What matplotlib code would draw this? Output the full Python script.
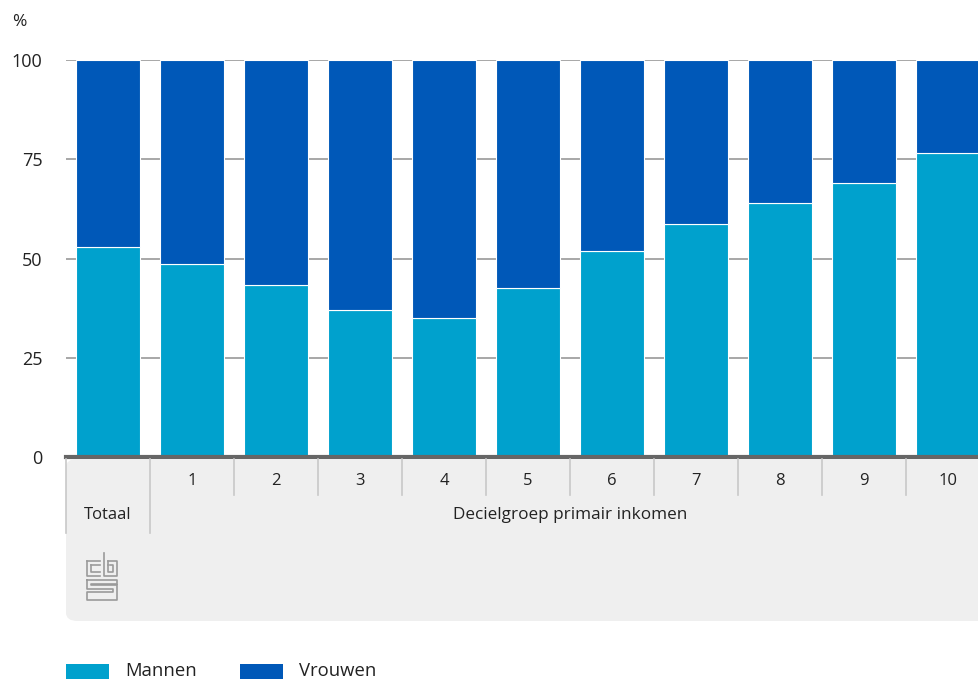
import matplotlib.pyplot as plt
from matplotlib.patches import FancyBboxPatch, Rectangle

# data
categories = ["Totaal", "1", "2", "3", "4", "5", "6", "7", "8", "9", "10"]
mannen = [52.8, 48.5, 43.3, 37.0, 34.9, 42.5, 51.9, 58.6, 64.1, 68.9, 76.7]
vrouwen = [100 - m for m in mannen]
yticks = [0, 25, 50, 75, 100]

c_man = "#00a1cd"
c_vrouw = "#0058b8"
txt = "#222222"

plt.rcParams["font.family"] = ["Open Sans", "DejaVu Sans"]

fig = plt.figure(figsize=(9.79, 6.79), dpi=100)
W, H = 979, 679


def fx(px):
    return px / W


def fy(py):
    return 1 - py / H


ax = fig.add_axes([fx(66), fy(457), fx(990) - fx(66), fy(60) - fy(457)])
x = list(range(len(categories)))
ax.bar(x, mannen, width=0.76, color=c_man, edgecolor="white", linewidth=0.8, zorder=3)
ax.bar(x, vrouwen, bottom=mannen, width=0.76, color=c_vrouw, edgecolor="white", linewidth=0.8, zorder=3)
ax.set_xlim(-0.5, 10.5)
ax.set_ylim(0, 100)
ax.set_yticks(yticks)
ax.set_yticklabels([str(t) for t in yticks], fontsize=13, color=txt)
ax.tick_params(axis="y", length=0, pad=17)
ax.tick_params(axis="x", length=0, labelbottom=False)
ax.yaxis.grid(True, color="#a0a0a0", linewidth=1.3, zorder=0)
for s in ["top", "right", "left"]:
    ax.spines[s].set_visible(False)
ax.spines["bottom"].set_color("#666666")
ax.spines["bottom"].set_linewidth(3)
ax.spines["bottom"].set_zorder(5)

fig.text(fx(12), fy(22), "%", fontsize=12.5, color=txt, va="center", ha="left")

# grey footer box
box = FancyBboxPatch((fx(66), fy(621)), fx(1040) - fx(66), fy(459) - fy(621),
                     boxstyle="round,pad=0,rounding_size=0.012", transform=fig.transFigure,
                     facecolor="#efefef", edgecolor="none", zorder=0)
fig.patches.append(box)

# category labels and separators
sep_col = "#c8c8c8"
for i, lab in enumerate(categories):
    cx = 66 + 84 * i + 42
    if i == 0:
        fig.text(fx(cx), fy(515), lab, fontsize=12, color=txt, ha="center", va="center")
    else:
        fig.text(fx(cx), fy(481), lab, fontsize=12, color=txt, ha="center", va="center")
for i in range(1, 11):
    bx = 66 + 84 * i
    y1 = 533 if i == 1 else 495
    fig.add_artist(plt.Line2D([fx(bx), fx(bx)], [fy(459), fy(y1)], color=sep_col, linewidth=1.2))
fig.add_artist(plt.Line2D([fx(66), fx(66)], [fy(459), fy(533)], color=sep_col, linewidth=1.2))
fig.text(fx((150 + 990) / 2), fy(515), "Decielgroep primair inkomen", fontsize=12.3,
         color=txt, ha="center", va="center")

# simplified cbs logo
lc = "#9a9a9a"
logo = [
    [(87, 561), (87, 576), (100, 576)], [(87, 561), (100, 561)],
    [(91, 565), (91, 572), (100, 572)], [(91, 565), (100, 565)],
    [(104, 553), (104, 576), (117, 576), (117, 561), (108, 561)],
    [(108, 561), (108, 565)], [(110, 565), (113, 565), (113, 572), (108, 572), (108, 565)],
    [(87, 580), (87, 589), (113, 589), (113, 592), (87, 592), (87, 600), (117, 600),
     (117, 585), (91, 585), (91, 584), (117, 584), (117, 580), (87, 580)],
]
for pts in logo:
    xs = [fx(p[0]) for p in pts]
    ys = [fy(p[1]) for p in pts]
    fig.add_artist(plt.Line2D(xs, ys, color=lc, linewidth=1.2))

# legend
for px0, col, lab in [(66, c_man, "Mannen"), (240, c_vrouw, "Vrouwen")]:
    fig.patches.append(Rectangle((fx(px0), fy(679)), fx(43), fy(664) - fy(679),
                                 transform=fig.transFigure, facecolor=col, edgecolor="none"))
    fig.text(fx(px0 + 59), fy(671), lab, fontsize=13.3, color=txt, ha="left", va="center")

fig.savefig("out.png", dpi=100)
